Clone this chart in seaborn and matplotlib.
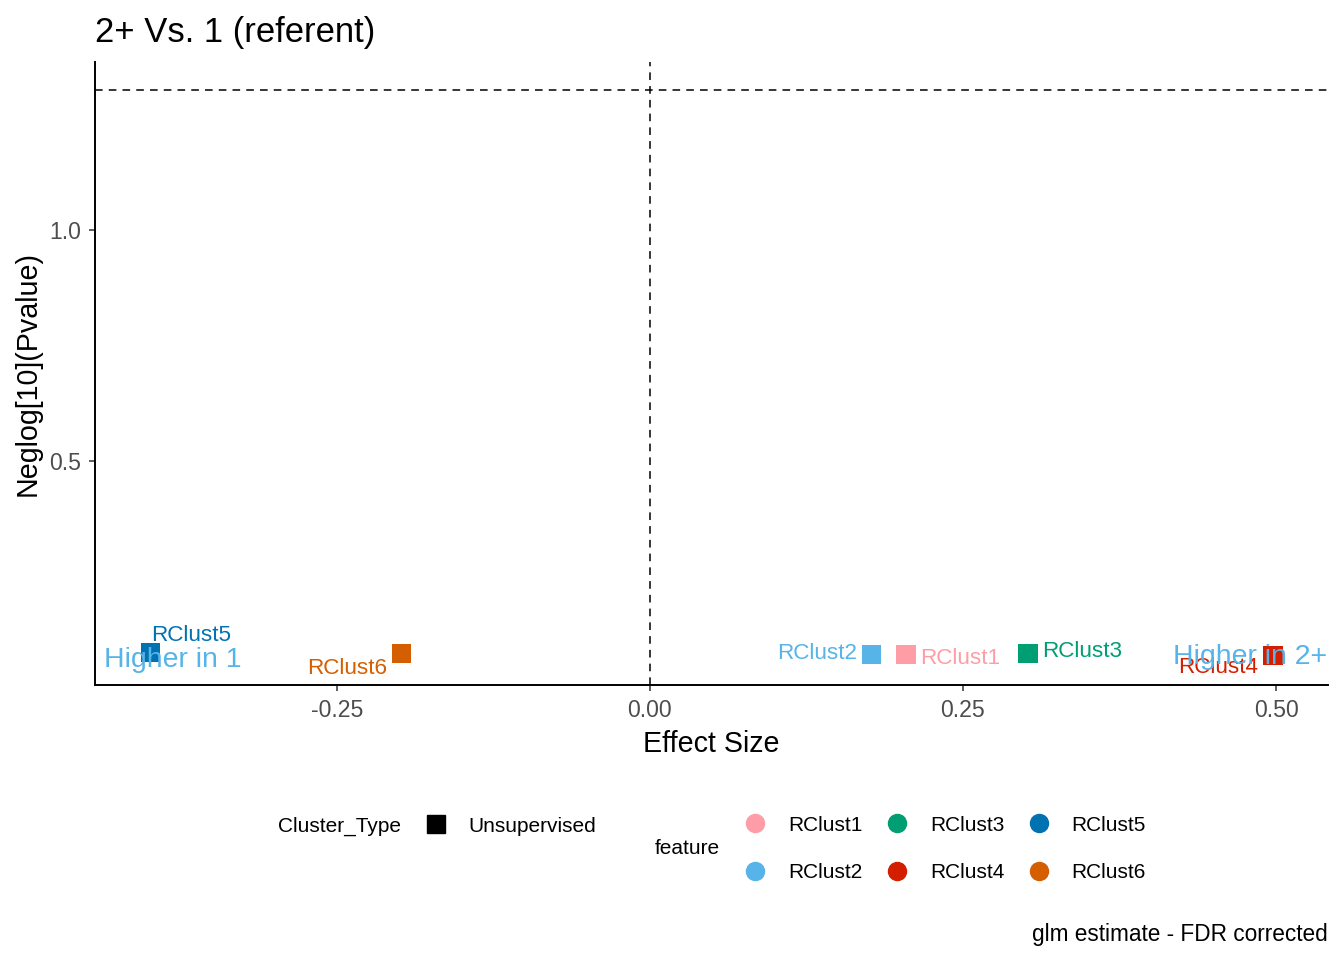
import numpy as np
import pandas as pd
import matplotlib
matplotlib.use("Agg")
import matplotlib.pyplot as plt
from matplotlib.lines import Line2D
import seaborn as sns

# Datos
features = ['RClust1', 'RClust2', 'RClust3', 'RClust4', 'RClust5', 'RClust6']
effect_size = [0.2045, 0.177, 0.302, 0.4976, -0.399, -0.198]
neglog_p = [0.082, 0.082, 0.084, 0.080, 0.0866, 0.0844]
cluster_type = ['Unsupervised'] * 6
colores = ['#FF9DA7', '#56B4E9', '#009E73', '#D41E00', '#0072B2', '#D55E00']

titulo = '2+ Vs. 1 (referent)'
umbral = -np.log10(0.05)

df = pd.DataFrame({'feature': features, 'Effect Size': effect_size,
                   'Neglog': neglog_p, 'Cluster_Type': cluster_type})
paleta = dict(zip(features, colores))

sns.set_style('white')
plt.rcParams['font.family'] = ['Liberation Sans', 'DejaVu Sans']
plt.rcParams['text.color'] = 'black'

fig = plt.figure(figsize=(13.44, 9.6), dpi=100)
ax = fig.add_axes([95/1344, 1 - 685/960, (1328-95)/1344, (685-62)/960])

sns.scatterplot(data=df, x='Effect Size', y='Neglog', hue='feature', palette=paleta,
                marker='s', s=190, linewidth=0, legend=False, ax=ax, zorder=3)

ax.axvline(0, color='black', lw=1.1, linestyle=(0, (5, 4)), zorder=1)
ax.axhline(umbral, color='black', lw=1.1, linestyle=(0, (5, 4)), zorder=1)

# desplazamiento de las etiquetas (en puntos), como ggrepel
offsets = {'RClust1': (39, -3), 'RClust2': (-39, 0.7), 'RClust3': (39, 1.5),
           'RClust4': (-39.6, -9), 'RClust5': (29.5, 12.2), 'RClust6': (-39, -11)}
for _, r in df.iterrows():
    ax.annotate(r['feature'], (r['Effect Size'], r['Neglog']), xytext=offsets[r['feature']],
                textcoords='offset points', ha='center', va='center', fontsize=16.2,
                color=paleta[r['feature']], zorder=4)

ax.text(-0.381, 0.071, 'Higher in 1', fontsize=20.5, color='#56B4E9', ha='center', va='center', zorder=5)
ax.text(0.479, 0.076, 'Higher in 2+', fontsize=20.5, color='#56B4E9', ha='center', va='center', zorder=5)

ax.set_xlim(-0.443, 0.5415)
ax.set_ylim(0.016, 1.362)
ax.set_xticks([-0.25, 0, 0.25, 0.5])
ax.set_xticklabels(['-0.25', '0.00', '0.25', '0.50'])
ax.set_yticks([0.5, 1.0])
ax.set_yticklabels(['0.5', '1.0'])
ax.tick_params(axis='both', labelsize=16.6, labelcolor='#4D4D4D', color='#333333',
               length=4, width=1.1, direction='out', left=True, bottom=True)
ax.tick_params(axis='x', pad=6)
ax.tick_params(axis='y', pad=6)
for s in ['top', 'right']:
    ax.spines[s].set_visible(False)
for s in ['left', 'bottom']:
    ax.spines[s].set_color('black')
    ax.spines[s].set_linewidth(1.4)
ax.set_xlabel('')
ax.set_ylabel('')

fig.text(95/1344, 1 - 42/960, titulo, fontsize=24.9, ha='left', va='baseline')
fig.text(711.5/1344, 1 - 752/960, 'Effect Size', fontsize=20.6, ha='center', va='baseline')
fig.text(28/1344, 1 - 373.5/960, 'Neglog[10](Pvalue)', fontsize=20.6, ha='center', va='center',
         rotation=90)
fig.text(1328/1344, 1 - 941/960, 'glm estimate - FDR corrected', fontsize=16.3, ha='right',
         va='baseline')

# leyendas
fig.text(278/1344, 1 - 826/960, 'Cluster_Type', fontsize=15, ha='left', va='center')
h_tipo = [Line2D([], [], marker='s', color='black', linestyle='', markersize=12.5)]
fig.legend(h_tipo, ['Unsupervised'], loc='center left', bbox_to_anchor=(425.6/1344, 1 - 826/960),
           frameon=False, fontsize=15, handlelength=1.0, handletextpad=1.06, borderpad=0,
           borderaxespad=0, labelcolor='black')

fig.text(655/1344, 1 - 849/960, 'feature', fontsize=15, ha='left', va='center')
h_feat = [Line2D([], [], marker='o', color=c, linestyle='', markersize=13) for c in colores]
fig.legend(h_feat, features, loc='center left', bbox_to_anchor=(745/1344, 1 - 849/960),
           ncol=3, frameon=False, fontsize=15, handlelength=1.0, handletextpad=1.06,
           columnspacing=1.18, labelspacing=1.38, borderpad=0, borderaxespad=0,
           labelcolor='black')

fig.savefig('out.png', dpi=100)
